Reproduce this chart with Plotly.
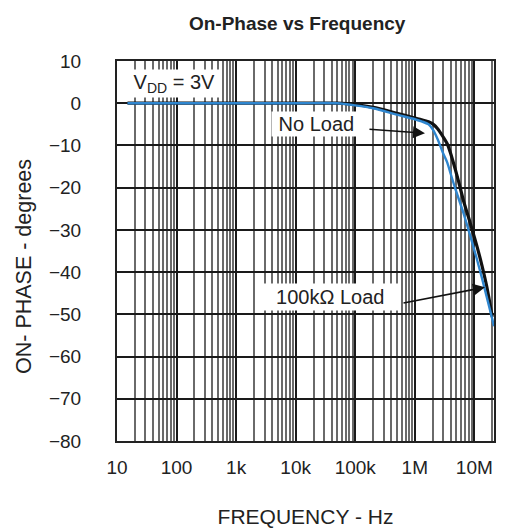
import plotly.graph_objects as go

freq_100k = [15, 1e2, 1e3, 1e4, 5e4, 1e5, 2e5, 5e5, 1e6, 1.3e6, 1.7e6, 2.0e6, 2.4e6, 3.0e6, 3.5e6,
             4.0e6, 4.73e6, 6.55e6, 8.45e6, 1.087e7, 1.33e7, 1.61e7, 1.95e7, 2.14e7]
phase_100k = [0, 0, 0, 0, 0, -0.5, -1.2, -2.7, -3.8, -4.3, -5.0, -6.2, -8.4, -11.9, -14.0,
              -16.7, -20.0, -26.0, -31.2, -36.6, -41.2, -45.8, -50.5, -52.8]

freq_noload = [15, 1e2, 1e3, 1e4, 5e4, 1e5, 2e5, 5e5, 1e6, 1.3e6, 1.7e6, 2.0e6, 2.4e6, 3.0e6, 3.5e6,
               4.0e6, 4.73e6, 5.5e6, 6.55e6, 8.45e6, 1.087e7, 1.33e7, 1.61e7, 2.0e7]
phase_noload = [0, 0, 0, 0, 0, -0.3, -1.0, -2.4, -3.5, -3.9, -4.4, -4.9, -6.0, -8.0, -9.6,
                -11.9, -15.4, -18.8, -23.0, -28.2, -33.5, -38.2, -43.3, -50.6]

x_tickvals = [10, 100, 1e3, 1e4, 1e5, 1e6, 1e7]
x_ticktext = ["10", "100", "1k", "10k", "100k", "1M", "10M"]
y_tickvals = [10, 0, -10, -20, -30, -40, -50, -60, -70, -80]

font_family = "Liberation Sans, Arial, sans-serif"
txt = "#222222"
NB = "\u00a0"

fig = go.Figure()
fig.add_trace(go.Scatter(x=freq_noload, y=phase_noload, mode="lines", name="No Load",
                         line=dict(color="#111111", width=3.2, shape="spline", smoothing=0.8)))
fig.add_trace(go.Scatter(x=freq_100k, y=phase_100k, mode="lines", name="100kΩ Load",
                         line=dict(color="#2f86cf", width=2.4, shape="spline", smoothing=0.8)))

fig.update_layout(
    width=510, height=523,
    margin=dict(l=109, r=24, t=53, b=90),
    paper_bgcolor="white", plot_bgcolor="white",
    showlegend=False,
    font=dict(family=font_family, size=19, color=txt),
    title=dict(text="<b>On-Phase vs Frequency</b>", x=0.567, xanchor="center",
               y=0.970, yanchor="middle", font=dict(size=19, color=txt)),
)

fig.update_xaxes(
    type="log", range=[1, 7.33], automargin=False,
    tickvals=x_tickvals, ticktext=x_ticktext,
    showgrid=True, gridcolor="#1a1a1a", gridwidth=2,
    minor=dict(showgrid=True, gridcolor="#6a6a6a", gridwidth=1.9, dtick="D1"),
    showline=True, linecolor="#222222", linewidth=2, mirror=True,
    ticks="", ticklabelstandoff=8, zeroline=False,
    tickfont=dict(size=19),
    title=dict(text="FREQUENCY - Hz", standoff=33, font=dict(size=21)),
)
fig.update_yaxes(
    range=[-80, 10], automargin=False, tickvals=y_tickvals,
    showgrid=True, gridcolor="#1a1a1a", gridwidth=1.8,
    showline=True, linecolor="#222222", linewidth=2, mirror=True,
    ticks="", ticklabelstandoff=30, zeroline=False,
    tickfont=dict(size=19),
)

# y-axis title
fig.add_annotation(x=-0.2467, y=0.4605, xref="paper", yref="paper",
                   text="ON- PHASE - degrees", textangle=-90, showarrow=False,
                   xanchor="center", yanchor="middle", font=dict(size=21.5, color=txt))

# text boxes
fig.add_annotation(x=1.957, y=4.74, xref="x", yref="y",
                   text=NB + "V<sub>DD</sub> = 3V" + NB,
                   showarrow=False, bgcolor="white", borderpad=1,
                   font=dict(size=20, color=txt))
fig.add_annotation(x=4.358, y=-4.86, xref="x", yref="y", text=NB + "No Load" + NB,
                   showarrow=False, bgcolor="white", borderpad=1,
                   font=dict(size=20, color=txt))
fig.add_annotation(x=4.593, y=-45.95, xref="x", yref="y",
                   text=NB + NB + "100kΩ Load" + NB + NB,
                   showarrow=False, bgcolor="white", borderpad=2,
                   font=dict(size=20, color=txt))

# arrows
fig.add_annotation(x=6.171, y=-7.1, xref="x", yref="y", text="", showarrow=True,
                   ax=-57, ay=-4, arrowhead=2, arrowsize=1.5, arrowwidth=1.6,
                   arrowcolor="#111111")
fig.add_annotation(x=7.179, y=-43.6, xref="x", yref="y", text="", showarrow=True,
                   ax=-83, ay=16, arrowhead=2, arrowsize=1.5, arrowwidth=1.6,
                   arrowcolor="#111111")

fig.write_html("out.html")
